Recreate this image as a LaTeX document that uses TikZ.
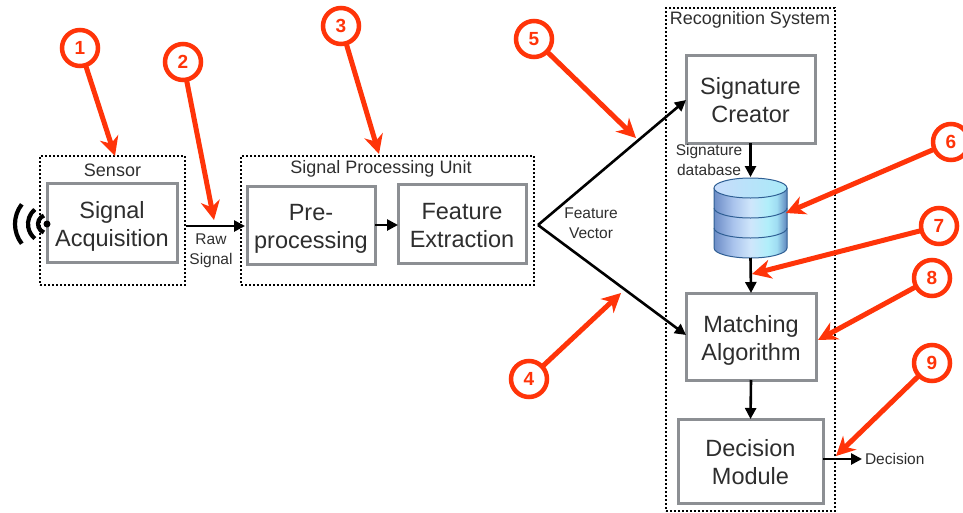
\documentclass[tikz,border=0pt]{standalone}
\usepackage{fontspec}
\setmainfont{Liberation Sans}
\usetikzlibrary{arrows.meta}
\definecolor{redmark}{HTML}{FF3409}
\definecolor{boxgray}{HTML}{8C8F93}
\definecolor{txtgray}{HTML}{2E2E2E}
\definecolor{dbline}{HTML}{2F5F94}
\definecolor{dba}{HTML}{6C8CC6}
\definecolor{dbb}{HTML}{A9C3EC}
\definecolor{dbc}{HTML}{CFE6FB}
\definecolor{dbd}{HTML}{B0EEFA}
\definecolor{dbe}{HTML}{A0DDF2}
\definecolor{dbf}{HTML}{5E85BD}
\definecolor{dbg}{HTML}{C8DCFB}
\definecolor{dbh}{HTML}{A8EAF8}
\pgfdeclarehorizontalshading{dbbody}{100bp}{color(0bp)=(dba);color(25bp)=(dba);color(38bp)=(dbb);color(50bp)=(dbc);color(62bp)=(dbd);color(68bp)=(dbe);color(75bp)=(dbf);color(100bp)=(dbf)}
\pgfdeclarehorizontalshading{dbtop}{100bp}{color(0bp)=(dbg);color(25bp)=(dbg);color(75bp)=(dbh);color(100bp)=(dbh)}
\newcommand{\blocktext}[2]{\rule{0pt}{25pt}#1\\#2\rule[-6pt]{0pt}{6pt}}

\begin{document}
\begin{tikzpicture}[x=1pt,y=-1pt]
\tikzset{ >={Triangle[length=11pt,width=11pt]}, inner sep=0pt, outer sep=0pt,
  unitbox/.style={draw=black, dash pattern=on 2pt off 2pt, line width=1.4pt},
  blockbox/.style={draw=boxgray, line width=3pt, fill=white, align=center, text=txtgray, font=\fontsize{23.5}{28}\selectfont},
  titlelabel/.style={text=txtgray, font=\fontsize{18}{20}\selectfont},
  smalllabel/.style={text=txtgray, align=center, font=\fontsize{15.5}{20}\selectfont},
  flow/.style={->, line width=2.6pt},
  badge/.style={circle, draw=redmark, line width=4.5pt, fill=white, minimum size=36pt, text=redmark, font=\fontsize{19}{19}\selectfont\bfseries},
  callout/.style={-{Stealth[length=19pt,width=19pt,inset=6pt]}, draw=redmark, fill=redmark, line width=5pt},
}
\useasboundingbox (0,0) rectangle (963,512);

% dotted units
\node [unitbox, minimum width=145pt, minimum height=129pt] (sensor) at (112.5,220.5) {};
\node [unitbox, minimum width=293pt, minimum height=129pt] (spu)    at (387.5,220.5) {};
\node [unitbox, minimum width=169pt, minimum height=503pt] (recog)  at (750.5,259.5) {};

\node [titlelabel] at (112.5,170) {Sensor};
\node [titlelabel] at (381.0,169) {Signal Processing Unit};
\node [titlelabel] at (750.0, 20) {Recognition System};

% blocks
\node [blockbox, minimum width=130pt, minimum height=79pt] (acq)     at (112.0,222.5) {\blocktext{Signal}{Acquisition}};
\node [blockbox, minimum width=128pt, minimum height=78pt] (pre)     at (311.0,225.0) {\blocktext{Pre-}{processing}};
\node [blockbox, minimum width=128pt, minimum height=79pt] (feat)    at (462.0,223.5) {\blocktext{Feature}{Extraction}};
\node [blockbox, minimum width=129pt, minimum height=88pt] (creator) at (750.5, 99.0) {\blocktext{Signature}{Creator}};
\node [blockbox, minimum width=130pt, minimum height=87pt] (match)   at (751.0,336.5) {\blocktext{Matching}{Algorithm}};
\node [blockbox, minimum width=145pt, minimum height=84pt] (decide)  at (750.5,461.0) {\blocktext{Decision}{Module}};

% database
\node [minimum width=73pt, minimum height=81pt] (db) at (750.5,217.5) {};
\path [shade, shading=dbbody] (714,188) -- (714,248) arc [start angle=180, end angle=360, x radius=36.5pt, y radius=10pt] -- (787,188) -- cycle;
\draw [dbline, line width=1pt] (714,188) -- (714,248) arc [start angle=180, end angle=360, x radius=36.5pt, y radius=10pt] -- (787,188);
\draw [dbline, line width=1pt] (714,208) arc [start angle=180, end angle=360, x radius=36.5pt, y radius=10pt];
\draw [dbline, line width=1pt] (714,228) arc [start angle=180, end angle=360, x radius=36.5pt, y radius=10pt];
\draw [dbline, line width=1pt, shade, shading=dbtop] (750.5,188) ellipse [x radius=36.5pt, y radius=10pt];

% antenna
\node [fill=black, circle, minimum size=7pt] (ant) at (47,224) {};
\foreach \r/\a in {9/70, 19/50, 32/38}
  \draw [line width=4.2pt] ([shift={(180-\a:\r pt)}]ant.center) arc [start angle=180-\a, end angle=180+\a, radius=\r pt];

% signal flow
\coordinate (rawout)  at (186,226);
\coordinate (rawin)   at (245,226);
\coordinate (fork)    at (538,225);
\coordinate (sigout)  at (862,459);

\draw [flow] (rawout) -- (rawin);
\draw [flow] (pre.east |- 0,225) -- (feat.west |- 0,225);
\draw [flow] (fork) -- (creator.west |- 0,100);
\draw [flow] (fork) -- (match.west |- 0,335);
\draw [flow] (creator.south) -- (db.north);
\draw [flow] (db.south) -- (match.north);
\draw [flow] (match.south) -- (decide.north);
\draw [flow] (decide.east |- sigout) -- (sigout);

\node [smalllabel] at (211.0,251) {Raw\\Signal};
\node [smalllabel] at (591.0,223) {Feature\\Vector};
\node [smalllabel] at (709.0,160) {Signature\\database};
\node [smalllabel, anchor=west] at (865,459) {Decision};

% red markers
\node [badge] (m1) at ( 80, 48) {1};
\node [badge] (m2) at (183, 62) {2};
\node [badge] (m3) at (341, 26) {3};
\node [badge] (m4) at (529,379) {4};
\node [badge] (m5) at (534, 39) {5};
\node [badge] (m6) at (951,142) {6};
\node [badge] (m7) at (939,226) {7};
\node [badge] (m8) at (932,278) {8};
\node [badge] (m9) at (932,363) {9};

\coordinate (t1) at (115,156);
\coordinate (t2) at (214,220);
\coordinate (t3) at (379,154);
\coordinate (t4) at (621,293);
\coordinate (t5) at (636,138);
\coordinate (t6) at (786,213);
\coordinate (t7) at (752,274);
\coordinate (t8) at (818,340);
\coordinate (t9) at (836,456);

\foreach \i in {1,...,9}
  \draw [callout] (m\i) -- (t\i);

\end{tikzpicture}
\end{document}
